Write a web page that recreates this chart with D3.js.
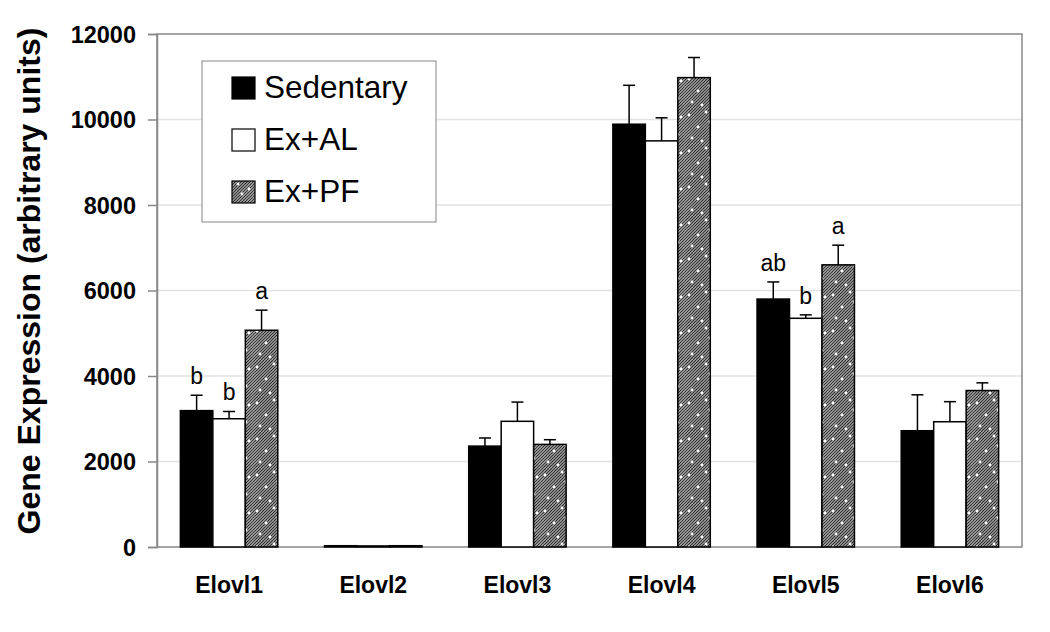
<!DOCTYPE html>
<html><head><meta charset="utf-8">
<script src="https://cdn.jsdelivr.net/npm/d3@7"></script>
<style>body{margin:0;background:#fff;font-family:Arial,"Liberation Sans",sans-serif}</style>
</head><body><svg id="c" width="1050" height="632"></svg>
<script>
const categories = ["Elovl1","Elovl2","Elovl3","Elovl4","Elovl5","Elovl6"];
const seriesNames = ["Sedentary","Ex+AL","Ex+PF"];
const sedentary = [3190, 30, 2360, 9890, 5800, 2720];
const exAL      = [3000, 25, 2940, 9500, 5350, 2930];
const exPF      = [5070, 30, 2400, 10980, 6600, 3660];
const sedErr    = [360, 0, 190, 910, 400, 840];
const exALErr   = [170, 0, 450, 540, 80, 470];
const exPFErr   = [470, 0, 110, 470, 460, 180];
const sigLabels = [["b","b","a"],["","",""],["","",""],["","",""],["ab","b","a"],["","",""]];
const yTicks = [0,2000,4000,6000,8000,10000,12000];

const values = [sedentary, exAL, exPF];
const errors = [sedErr, exALErr, exPFErr];
const FONT = "Arial, 'Liberation Sans', sans-serif";

const svg = d3.select("#c");
const L=157, R=1022, T=34, B=547;
const x = d3.scaleBand().domain(categories).range([L,R]).paddingInner(0).paddingOuter(0);
const y = d3.scaleLinear().domain([0,12000]).range([B,T]);
const xs = d3.scaleBand().domain(seriesNames).range([0,x.bandwidth()]).paddingInner(0).paddingOuter(0.72);

const defs = svg.append("defs");
const pat = defs.append("pattern").attr("id","hatch").attr("patternUnits","userSpaceOnUse")
  .attr("width",36).attr("height",36);
pat.append("rect").attr("width",36).attr("height",36).attr("fill","#bdbdbd");
for(let k=-36;k<=72;k+=3){
  pat.append("line").attr("x1",k).attr("y1",36).attr("x2",k+36).attr("y2",0)
    .attr("stroke","#2e2e2e").attr("stroke-width",1.2);
}
[[5,7],[22,4],[14,19],[30,26],[8,30],[26,14],[18,33],[33,9]].forEach(p=>{
  pat.append("circle").attr("cx",p[0]).attr("cy",p[1]).attr("r",1.4).attr("fill","#fff");
});

// gridlines
svg.append("g").selectAll("line").data(yTicks.filter(d=>d>0&&d<12000)).join("line")
  .attr("x1",L).attr("x2",R).attr("y1",d=>y(d)).attr("y2",d=>y(d))
  .attr("stroke","#e3e3e3").attr("stroke-width",1.5);

// plot border
svg.append("rect").attr("x",L).attr("y",T).attr("width",R-L).attr("height",B-T)
  .attr("fill","none").attr("stroke","#888").attr("stroke-width",1.5);

// y axis
const yAxis = d3.axisLeft(y).tickValues(yTicks).tickSize(9).tickFormat(d3.format("d"));
const ga = svg.append("g").attr("transform",`translate(${L},0)`).call(yAxis);
ga.attr("font-size",null).attr("font-family",null);
ga.select(".domain").attr("stroke","#888").attr("stroke-width",1.5);
ga.selectAll(".tick line").attr("stroke","#888").attr("stroke-width",1.5);
ga.selectAll("text").style("font-family",FONT)
  .style("font-size","23.5px").style("font-weight","bold").attr("fill","#000").attr("x",-21).attr("dy","0.36em");

// x axis labels
const xAxis = d3.axisBottom(x).tickSize(0);
const gx = svg.append("g").attr("transform",`translate(0,${B})`).call(xAxis);
gx.attr("font-size",null).attr("font-family",null);
gx.select(".domain").remove();
gx.selectAll("text").style("font-family",FONT)
  .style("font-size","23px").style("font-weight","bold").attr("fill","#000").attr("dy",0).attr("y",46);

// y title
svg.append("text").attr("transform","translate(40,281) rotate(-90)")
  .attr("text-anchor","middle").style("font-size","32px").style("font-weight","bold")
  .style("font-family",FONT)
  .text("Gene Expression (arbitrary units)");

const fills = ["#000","#fff","url(#hatch)"];
const bars = svg.append("g");
categories.forEach((c,i)=>{
  seriesNames.forEach((s,j)=>{
    const v = values[j][i], e = errors[j][i];
    const bx = x(c)+xs(s), bw = xs.bandwidth();
    bars.append("rect").attr("x",bx).attr("y",y(v)).attr("width",bw).attr("height",B-y(v))
      .attr("fill",fills[j]).attr("stroke","#000").attr("stroke-width",1.5);
    const cx = bx+bw/2;
    if(e>0){
      bars.append("line").attr("x1",cx).attr("x2",cx).attr("y1",y(v)).attr("y2",y(v+e))
        .attr("stroke","#000").attr("stroke-width",1.5);
      bars.append("line").attr("x1",cx-6).attr("x2",cx+6).attr("y1",y(v+e)).attr("y2",y(v+e))
        .attr("stroke","#000").attr("stroke-width",1.5);
    }
    const lab = sigLabels[i][j];
    if(lab){
      bars.append("text").attr("x",cx).attr("y",y(v+e)-11).attr("text-anchor","middle")
        .style("font-size","23px").style("font-family",FONT).text(lab);
    }
  });
});

// legend
const lg = svg.append("g");
lg.append("rect").attr("x",202).attr("y",61).attr("width",234).attr("height",161)
  .attr("fill","#fff").attr("stroke","#999").attr("stroke-width",1.2);
seriesNames.forEach((s,j)=>{
  const base = 98 + j*52;
  lg.append("rect").attr("x",232).attr("y",base-21).attr("width",23).attr("height",22)
    .attr("fill",fills[j]).attr("stroke","#000").attr("stroke-width",1.2);
  lg.append("text").attr("x",264).attr("y",base).style("font-size","31.5px")
    .style("font-family",FONT).text(s);
});
</script></body></html>
